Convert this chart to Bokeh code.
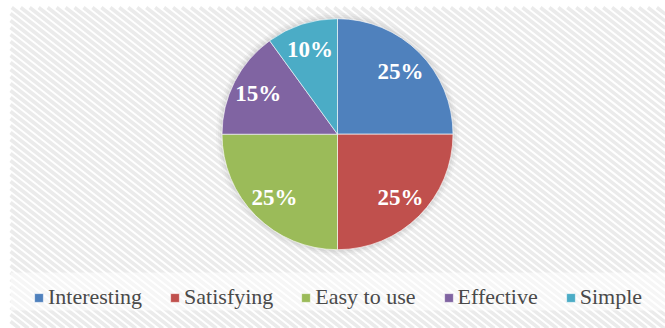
import math
from bokeh.plotting import figure
from bokeh.models import Legend, LegendItem, Range1d
from bokeh.core.properties import value
from bokeh.embed import file_html
from bokeh.resources import INLINE

categories = ["Interesting", "Satisfying", "Easy to use", "Effective", "Simple"]
shares = [25, 25, 25, 15, 10]
colors = ["#4F81BD", "#C0504D", "#9BBB59", "#8064A2", "#4BACC6"]

SERIF = "Liberation Serif"

W, H = 665, 328
p = figure(width=W, height=H, output_backend="svg", toolbar_location=None,
           x_range=Range1d(0, W), y_range=Range1d(0, H), min_border=0)
p.axis.visible = False
p.grid.visible = False
p.outline_line_color = None
p.background_fill_color = "white"
p.border_fill_color = "white"

# diagonal striped chart area (decoration)
left, right, bottom, top = 10, W, 0, H - 7
k = math.tan(math.radians(38))
xs, ys = [], []
c = bottom + k * left
while c < top + k * right:
    x0 = max(left, (c - top) / k)
    x1 = min(right, (c - bottom) / k)
    if x0 < x1:
        xs.append([x0, x1]); ys.append([c - k * x0, c - k * x1])
    c += 7.0
p.multi_line(xs=xs, ys=ys, line_color="#ebebeb", line_width=3.5)
# lighter legend band
p.quad(left=left, right=right, bottom=H - 310, top=H - 272, fill_color="white", fill_alpha=0.55, line_color=None)

cx, cy, R = 337, H - 133.7, 115.5
for extra, a in [(6, 0.05), (4, 0.07), (2, 0.09)]:
    p.circle(x=[cx], y=[cy], radius=R + extra, fill_color="#808080", fill_alpha=a, line_color=None)

total = sum(shares)
starts, ends, mids = [], [], []
acc = 0
for s in shares:
    a0 = math.pi / 2 - 2 * math.pi * acc / total
    acc += s
    a1 = math.pi / 2 - 2 * math.pi * acc / total
    starts.append(a0); ends.append(a1); mids.append((a0 + a1) / 2)

renderers = []
for i in range(len(shares)):
    r = p.wedge(x=cx, y=cy, radius=R, start_angle=starts[i], end_angle=ends[i],
                direction="clock", fill_color=colors[i], line_color="white", line_width=0.6)
    renderers.append(r)

lr = 0.77 * R
p.text(x=[cx + lr * math.cos(m) for m in mids], y=[cy + lr * math.sin(m) for m in mids],
       text=[f"{s}%" for s in shares], text_color="white", text_font=value(SERIF),
       text_font_style="bold", text_font_size="23px", text_align="center", text_baseline="middle")

legend = Legend(items=[LegendItem(label=c, renderers=[r]) for c, r in zip(categories, renderers)],
                orientation="horizontal", location=(33, 18))
legend.label_text_font = SERIF
legend.label_text_font_size = "22px"
legend.label_text_color = "#4a4a4a"
legend.glyph_width = 11
legend.glyph_height = 11
legend.label_standoff = 4
legend.spacing = 27
legend.padding = 0
legend.margin = 0
legend.border_line_color = None
legend.background_fill_alpha = 0
p.add_layout(legend)

open("out.html", "w").write(file_html(p, INLINE))
